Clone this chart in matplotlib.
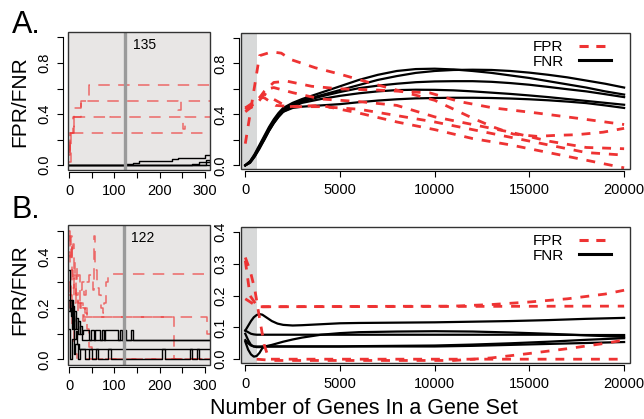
import matplotlib.pyplot as plt
from matplotlib.lines import Line2D
from matplotlib.patches import Rectangle

plt.rcParams["font.family"] = ["Liberation Sans", "DejaVu Sans"]

# ---------------- data ----------------
# Panel A, left (zoomed step curves, x = genes 0..310)
a_left_fpr_x = [
    [0, 3, 8, 26, 44, 310],
    [0, 4, 10, 26, 240, 246, 310],
    [0, 3, 11, 84, 90, 252, 256, 310],
    [0, 2, 310],
]
a_left_fpr_y = [
    [0.08, 0.25, 0.375, 0.5, 0.625, 0.625],
    [0.02, 0.25, 0.45, 0.5, 0.43, 0.5, 0.5],
    [0.10, 0.25, 0.375, 0.39, 0.375, 0.28, 0.375, 0.375],
    [0.12, 0.25, 0.25],
]
a_left_fnr_x = [
    [0, 310],
    [0, 125, 140, 155, 228, 240, 300, 310],
    [0, 262, 272, 287, 300, 310],
    [0, 296, 302, 310],
]
a_left_fnr_y = [
    [0.0, 0.0],
    [0.0, 0.01, 0.018, 0.035, 0.05, 0.058, 0.075, 0.075],
    [0.0, 0.0, 0.01, 0.02, 0.025, 0.03],
    [0.0, 0.0, 0.04, 0.04],
]
a_cut_pos, a_cut_label = 124, "135"

# Panel A, right (full range)
a_fnr_x = [0, 250, 500, 750, 1000, 1250, 1500, 1750, 2000, 2500, 3000, 4000,
           5000, 6000, 7000, 8000, 9000, 10000, 11000, 12000, 13000, 14000,
           15000, 16000, 17000, 18000, 19000, 20000]
a_fnr_y = [
    [0, 0.03, 0.09, 0.16, 0.23, 0.30, 0.36, 0.41, 0.45, 0.49, 0.52, 0.57, 0.62,
     0.67, 0.71, 0.74, 0.755, 0.758, 0.752, 0.74, 0.725, 0.705, 0.685, 0.66,
     0.635, 0.61, 0.58, 0.555],
    [0, 0.03, 0.08, 0.15, 0.22, 0.29, 0.35, 0.40, 0.44, 0.48, 0.51, 0.55, 0.59,
     0.63, 0.67, 0.70, 0.725, 0.74, 0.748, 0.75, 0.748, 0.74, 0.727, 0.71,
     0.69, 0.665, 0.64, 0.61],
    [0, 0.03, 0.08, 0.15, 0.21, 0.28, 0.34, 0.39, 0.43, 0.47, 0.50, 0.54, 0.575,
     0.605, 0.625, 0.64, 0.652, 0.658, 0.66, 0.66, 0.655, 0.645, 0.632, 0.615,
     0.597, 0.58, 0.558, 0.535],
    [0, 0.02, 0.07, 0.14, 0.20, 0.27, 0.33, 0.38, 0.42, 0.46, 0.49, 0.52, 0.545,
     0.565, 0.58, 0.59, 0.593, 0.592, 0.588, 0.58, 0.57, 0.56, 0.548, 0.535,
     0.52, 0.505, 0.49, 0.475],
    [0, 0.02, 0.07, 0.13, 0.20, 0.27, 0.33, 0.38, 0.42, 0.45, 0.46, 0.47, 0.48,
     0.495, 0.508, 0.518, 0.525, 0.528, 0.53, 0.53, 0.528, 0.524, 0.518, 0.51,
     0.50, 0.488, 0.47, 0.45],
]
a_fpr_x = [
    [0, 750, 1400, 1900, 2400, 3700, 5000, 7000, 8500, 10000, 12000, 13100,
     14150, 15400, 16400, 17500, 18900, 20000],
    [0, 500, 1000, 1500, 2200, 3500, 5000, 7000, 9750, 11300, 13100, 15400,
     17700, 20000],
    [0, 700, 1200, 1500, 2500, 4000, 6000, 8000, 10000, 12000, 14000, 16000,
     18000, 20000],
    [0, 800, 1000, 1600, 2500, 4000, 6000, 8000, 10000, 12000, 14000, 16000,
     18000, 20000],
    [0, 1000, 2200, 4000, 6000, 8000, 10000, 12000, 14000, 16000, 18000, 20000],
]
a_fpr_y = [
    [0.17, 0.86, 0.89, 0.88, 0.83, 0.765, 0.715, 0.63, 0.57, 0.51, 0.37, 0.30,
     0.245, 0.227, 0.235, 0.24, 0.26, 0.29],
    [0.45, 0.48, 0.58, 0.65, 0.66, 0.62, 0.60, 0.59, 0.568, 0.50, 0.45, 0.41,
     0.366, 0.32],
    [0.42, 0.50, 0.60, 0.61, 0.57, 0.52, 0.50, 0.47, 0.38, 0.32, 0.26, 0.19,
     0.14, 0.13],
    [0.45, 0.53, 0.53, 0.47, 0.46, 0.46, 0.44, 0.39, 0.34, 0.28, 0.22, 0.16,
     0.10, 0.08],
    [0.44, 0.56, 0.46, 0.47, 0.41, 0.34, 0.28, 0.21, 0.16, 0.10, 0.04, -0.02],
]

# Panel B, left
b_left_fpr_x = [
    [0, 3, 5, 7, 9, 11, 14, 17, 20, 24, 28, 33, 38, 45, 52, 55, 58, 62, 66,
     70, 74, 78, 82, 86, 310],
    [0, 2, 4, 6, 9, 12, 16, 20, 25, 30, 35, 40, 232, 310],
    [0, 3, 6, 10, 15, 20, 26, 32, 304, 310],
    [0, 2, 4, 7, 10, 14, 18, 310],
    [0, 5, 10, 15, 20, 25, 30, 35, 40, 45, 50, 310],
]
b_left_fpr_y = [
    [0.50, 0.44, 0.48, 0.40, 0.45, 0.33, 0.38, 0.30, 0.33, 0.27, 0.30, 0.25,
     0.30, 0.33, 0.27, 0.48, 0.35, 0.28, 0.25, 0.20, 0.18, 0.22, 0.30, 0.333,
     0.333],
    [0.48, 0.40, 0.45, 0.35, 0.30, 0.33, 0.25, 0.28, 0.22, 0.20, 0.18, 0.167,
     0.0, 0.0],
    [0.42, 0.35, 0.28, 0.32, 0.25, 0.22, 0.19, 0.167, 0.10, 0.10],
    [0.30, 0.20, 0.25, 0.12, 0.05, 0.02, 0.0, 0.0],
    [0.25, 0.30, 0.22, 0.26, 0.18, 0.22, 0.15, 0.20, 0.12, 0.05, 0.0, 0.0],
]
b_left_fnr_x = [
    [0, 3, 6, 9, 12, 16, 20, 25, 30, 44, 48, 54, 58, 68, 72, 76, 80, 108, 112,
     116, 120, 125, 136, 141, 310],
    [0, 2, 5, 8, 11, 15, 19, 24, 28, 310],
    [0, 3, 6, 9, 12, 15, 18, 22, 310],
    [0, 3, 6, 10, 14, 20, 25, 35, 45, 51, 59, 64, 85, 92, 205, 212, 267, 271,
     282, 286, 310],
]
b_left_fnr_y = [
    [0.23, 0.19, 0.23, 0.15, 0.19, 0.12, 0.15, 0.10, 0.115, 0.077, 0.115,
     0.077, 0.115, 0.077, 0.115, 0.077, 0.115, 0.077, 0.115, 0.077, 0.115,
     0.077, 0.115, 0.077, 0.077],
    [0.35, 0.20, 0.17, 0.21, 0.12, 0.16, 0.10, 0.13, 0.077, 0.077],
    [0.19, 0.23, 0.12, 0.17, 0.08, 0.11, 0.06, 0.039, 0.039],
    [0.12, 0.0, 0.08, 0.02, 0.06, 0.0, 0.04, 0.0, 0.039, 0.0, 0.039, 0.0,
     0.039, 0.0, 0.039, 0.0, 0.039, 0.0, 0.039, 0.0, 0.0],
]
b_cut_pos, b_cut_label = 121, "122"

# Panel B, right
b_fnr_x = [0, 150, 300, 450, 600, 750, 900, 1100, 1400, 1700, 2000, 2500,
           3000, 4000, 5000, 6000, 8000, 10000, 12000, 14000, 16000, 18000,
           20000]
b_fnr_y = [
    [0.09, 0.105, 0.12, 0.132, 0.139, 0.142, 0.14, 0.132, 0.12, 0.112, 0.108,
     0.106, 0.107, 0.11, 0.113, 0.114, 0.115, 0.116, 0.118, 0.12, 0.123,
     0.127, 0.13],
    [0.09, 0.085, 0.08, 0.078, 0.077, 0.077, 0.077, 0.077, 0.077, 0.077,
     0.077, 0.077, 0.077, 0.077, 0.077, 0.077, 0.077, 0.077, 0.077, 0.077,
     0.077, 0.076, 0.076],
    [0.08, 0.06, 0.045, 0.04, 0.038, 0.038, 0.039, 0.041, 0.045, 0.05, 0.055,
     0.062, 0.068, 0.077, 0.082, 0.085, 0.087, 0.088, 0.087, 0.084, 0.08,
     0.075, 0.07],
    [0.055, 0.03, 0.015, 0.008, 0.01, 0.02, 0.035, 0.04, 0.04, 0.04, 0.04,
     0.04, 0.04, 0.04, 0.04, 0.041, 0.042, 0.043, 0.046, 0.05, 0.055, 0.061,
     0.066],
    [0.06, 0.05, 0.043, 0.04, 0.04, 0.04, 0.04, 0.04, 0.04, 0.04, 0.04, 0.04,
     0.04, 0.04, 0.04, 0.04, 0.04, 0.04, 0.042, 0.045, 0.048, 0.051, 0.054],
]
b_fpr_x = [
    [0, 250, 650, 20000],
    [0, 650, 11000, 13000, 15000, 17000, 19000, 20000],
    [0, 250, 500, 750, 1000, 1250, 20000],
    [600, 1500, 11000, 13000, 15000, 17000, 19000, 20000],
]
b_fpr_y = [
    [0.31, 0.20, 0.165, 0.167],
    [0.19, 0.165, 0.167, 0.172, 0.18, 0.19, 0.205, 0.217],
    [0.32, 0.28, 0.22, 0.13, 0.045, 0.0, 0.0],
    [0.0, -0.004, -0.004, 0.004, 0.018, 0.033, 0.05, 0.06],
]

shade_end = 600  # grey strip in the full-range panels

# ---------------- styling ----------------
RED = "#ee3333"
LEFT_BG = "#e8e6e5"
STRIP = "#d8d9d9"
TICK_KW = dict(direction="out", length=4.3, width=0.8, labelsize=10.5, colors="black")

W, H = 644, 419


def px_axes(fig, x0, y0, x1, y1):
    return fig.add_axes([x0 / W, 1 - y1 / H, (x1 - x0) / W, (y1 - y0) / H])


def r_style(ax, xticks, xlabels, yticks, ylabels, out_left, out_bottom):
    for s in ("top", "right"):
        ax.spines[s].set_visible(False)
    ax.spines["left"].set_position(("outward", out_left))
    ax.spines["bottom"].set_position(("outward", out_bottom))
    ax.spines["left"].set_bounds(yticks[0], yticks[-1])
    ax.spines["bottom"].set_bounds(xticks[0], xticks[-1])
    ax.spines["left"].set_linewidth(0.8)
    ax.spines["bottom"].set_linewidth(0.8)
    ax.set_xticks(xticks)
    ax.set_xticklabels(xlabels)
    ax.set_yticks(yticks)
    ax.set_yticklabels(ylabels, rotation=90, va="center")
    ax.tick_params(axis="x", pad=4.5, **TICK_KW)
    ax.tick_params(axis="y", pad=4.0, **TICK_KW)
    ax.add_patch(Rectangle((0, 0), 1, 1, transform=ax.transAxes, fill=False,
                           lw=1.0, ec="#333333", zorder=10, clip_on=False))


def left_panel(ax, fpr_x, fpr_y, fnr_x, fnr_y, cut, cut_label, ylim, yticks, ylabels):
    ax.set_facecolor(LEFT_BG)
    for xs, ys in zip(fpr_x, fpr_y):
        ax.step(xs, ys, where="post", color=RED, alpha=0.7, lw=1.1,
                dashes=(7.5, 5.5))
    for xs, ys in zip(fnr_x, fnr_y):
        ax.step(xs, ys, where="post", color="black", lw=1.0)
    ax.axvline(cut, color="#9a9a9a", lw=2.4)
    ax.text(cut + 16, ylim[1] - (ylim[1] - ylim[0]) * 0.045, cut_label,
            fontsize=10, va="top", ha="left")
    ax.set_xlim(-3, 311)
    ax.set_ylim(*ylim)
    r_style(ax, [0, 50, 100, 150, 200, 250, 300],
            ["0", "", "100", "", "200", "", "300"], yticks, ylabels, 3.4, 1.6)


def right_panel(ax, fpr_x, fpr_y, fnr_x, fnr_y, ylim, yticks, ylabels):
    ax.axvspan(-1000, shade_end, color=STRIP, lw=0, zorder=0)
    for ys in fnr_y:
        ax.plot(fnr_x, ys, color="black", lw=1.6, zorder=3)
    for xs, ys in zip(fpr_x, fpr_y):
        ax.plot(xs, ys, color=RED, lw=2.0, dashes=(3.2, 3.2), zorder=4)
    ax.set_xlim(-243, 20311)
    ax.set_ylim(*ylim)
    r_style(ax, [0, 5000, 10000, 15000, 20000],
            ["0", "5000", "10000", "15000", "20000"], yticks, ylabels, 1.2, 1.4)
    handles = [Line2D([], [], color=RED, lw=2.2, dashes=(3, 2.5)),
               Line2D([], [], color="black", lw=2.2)]
    ax.legend(handles, ["FPR", "FNR"], loc="upper right",
              bbox_to_anchor=(1 - 19 / 389, 1 - 7 / 136), frameon=False,
              markerfirst=False, fontsize=11, handlelength=2.1,
              handletextpad=1.0, labelspacing=0.05, borderpad=0,
              borderaxespad=0)


fig = plt.figure(figsize=(W / 100, H / 100), dpi=100)

ax_al = px_axes(fig, 67.7, 32, 210, 170)
left_panel(ax_al, a_left_fpr_x, a_left_fpr_y, a_left_fnr_x, a_left_fnr_y,
           a_cut_pos, a_cut_label, (-0.039, 1.043),
           [0, 0.2, 0.4, 0.6, 0.8, 1.0], ["0.0", "", "0.4", "", "0.8", ""])

ax_ar = px_axes(fig, 240.7, 33, 630, 169)
right_panel(ax_ar, a_fpr_x, a_fpr_y, a_fnr_x, a_fnr_y, (-0.029, 1.038),
            [0, 0.2, 0.4, 0.6, 0.8, 1.0], ["0.0", "", "0.4", "", "0.8", ""])

ax_bl = px_axes(fig, 67.7, 225, 210, 365)
left_panel(ax_bl, b_left_fpr_x, b_left_fpr_y, b_left_fnr_x, b_left_fnr_y,
           b_cut_pos, b_cut_label, (-0.022, 0.524),
           [0, 0.1, 0.2, 0.3, 0.4, 0.5], ["0.0", "", "0.2", "", "0.4", ""])

ax_br = px_axes(fig, 240.7, 227, 630, 363)
right_panel(ax_br, b_fpr_x, b_fpr_y, b_fnr_x, b_fnr_y, (-0.012, 0.416),
            [0, 0.1, 0.2, 0.3, 0.4], ["0.0", "0.1", "0.2", "0.3", "0.4"])

fig.text(12 / W, 1 - 33 / H, "A.", fontsize=22, ha="left", va="baseline")
fig.text(12 / W, 1 - 218 / H, "B.", fontsize=22, ha="left", va="baseline")
fig.text(20 / W, 1 - 102 / H, "FPR/FNR", fontsize=15, rotation=90,
         ha="center", va="center")
fig.text(20 / W, 1 - 290 / H, "FPR/FNR", fontsize=15, rotation=90,
         ha="center", va="center")
fig.text(364 / W, 1 - 408 / H, "Number of Genes In a Gene Set", fontsize=15.5,
         ha="center", va="center")

fig.savefig("out.png", dpi=100)
